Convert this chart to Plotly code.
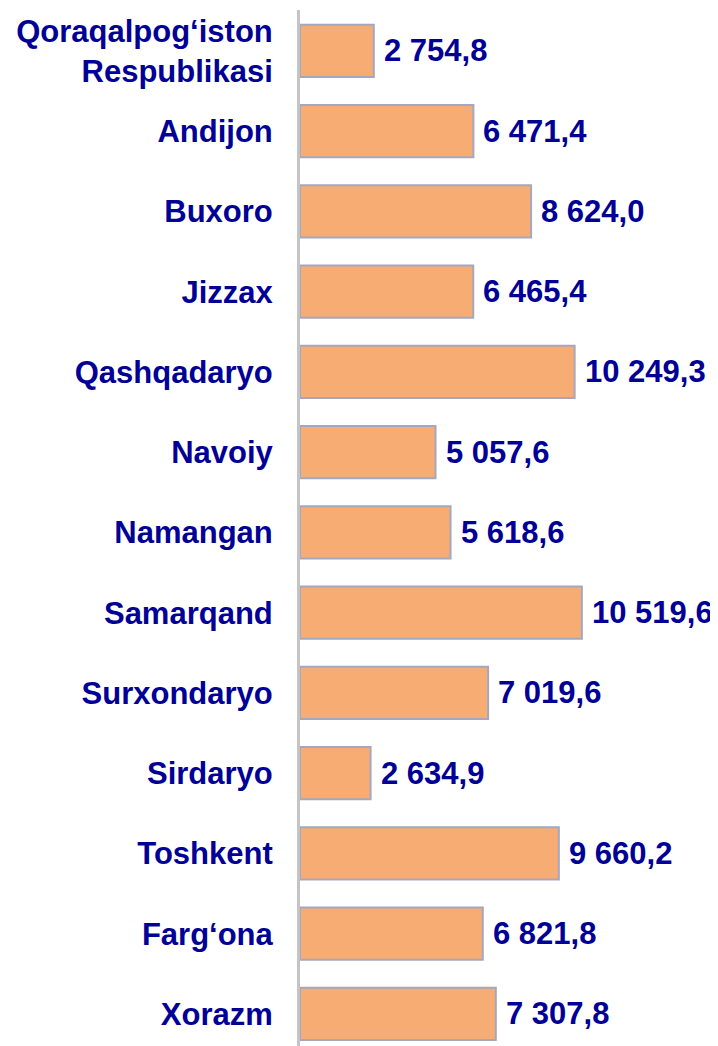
import plotly.graph_objects as go

regions = ['Qoraqalpog‘iston<br>Respublikasi', 'Andijon', 'Buxoro', 'Jizzax', 'Qashqadaryo',
           'Navoiy', 'Namangan', 'Samarqand', 'Surxondaryo', 'Sirdaryo', 'Toshkent',
           'Farg‘ona', 'Xorazm']
values = [2754.8, 6471.4, 8624.0, 6465.4, 10249.3, 5057.6, 5618.6, 10519.6,
          7019.6, 2634.9, 9660.2, 6821.8, 7307.8]

navy = '#000096'
font_family = 'Arial, Liberation Sans, sans-serif'


def fmt(v):
    # 10 519,6 style
    s = f'{v:,.1f}'
    return s.replace(',', ' ').replace('.', ',')


fig = go.Figure(go.Bar(
    x=values,
    y=regions,
    orientation='h',
    width=0.65,
    marker=dict(color='#F6AC72', line=dict(color='#A3A8C0', width=2)),
    hoverinfo='x+y',
))

for r, v in zip(regions, values):
    fig.add_annotation(x=v, y=r, text=fmt(v), showarrow=False, xanchor='left',
                       xshift=8, font=dict(family=font_family, size=31, color=navy, weight='bold'))

# page body has an 8px margin, so the figure is a bit smaller than the window
fig.update_layout(
    width=710, height=1038,
    margin=dict(l=292, r=0, t=2, b=0),
    paper_bgcolor='white', plot_bgcolor='white',
    showlegend=False,
    xaxis=dict(range=[0, 15600], visible=False, fixedrange=True),
    yaxis=dict(
        categoryorder='array', categoryarray=regions,
        range=[12.4, -0.51], automargin=False,
        showline=True, linecolor='#C4C4C4', linewidth=3,
        showgrid=False, zeroline=False,
        ticks='', ticklabelstandoff=18,
        tickfont=dict(family=font_family, size=31, color=navy, weight='bold'),
    ),
)

fig.write_html('out.html')
